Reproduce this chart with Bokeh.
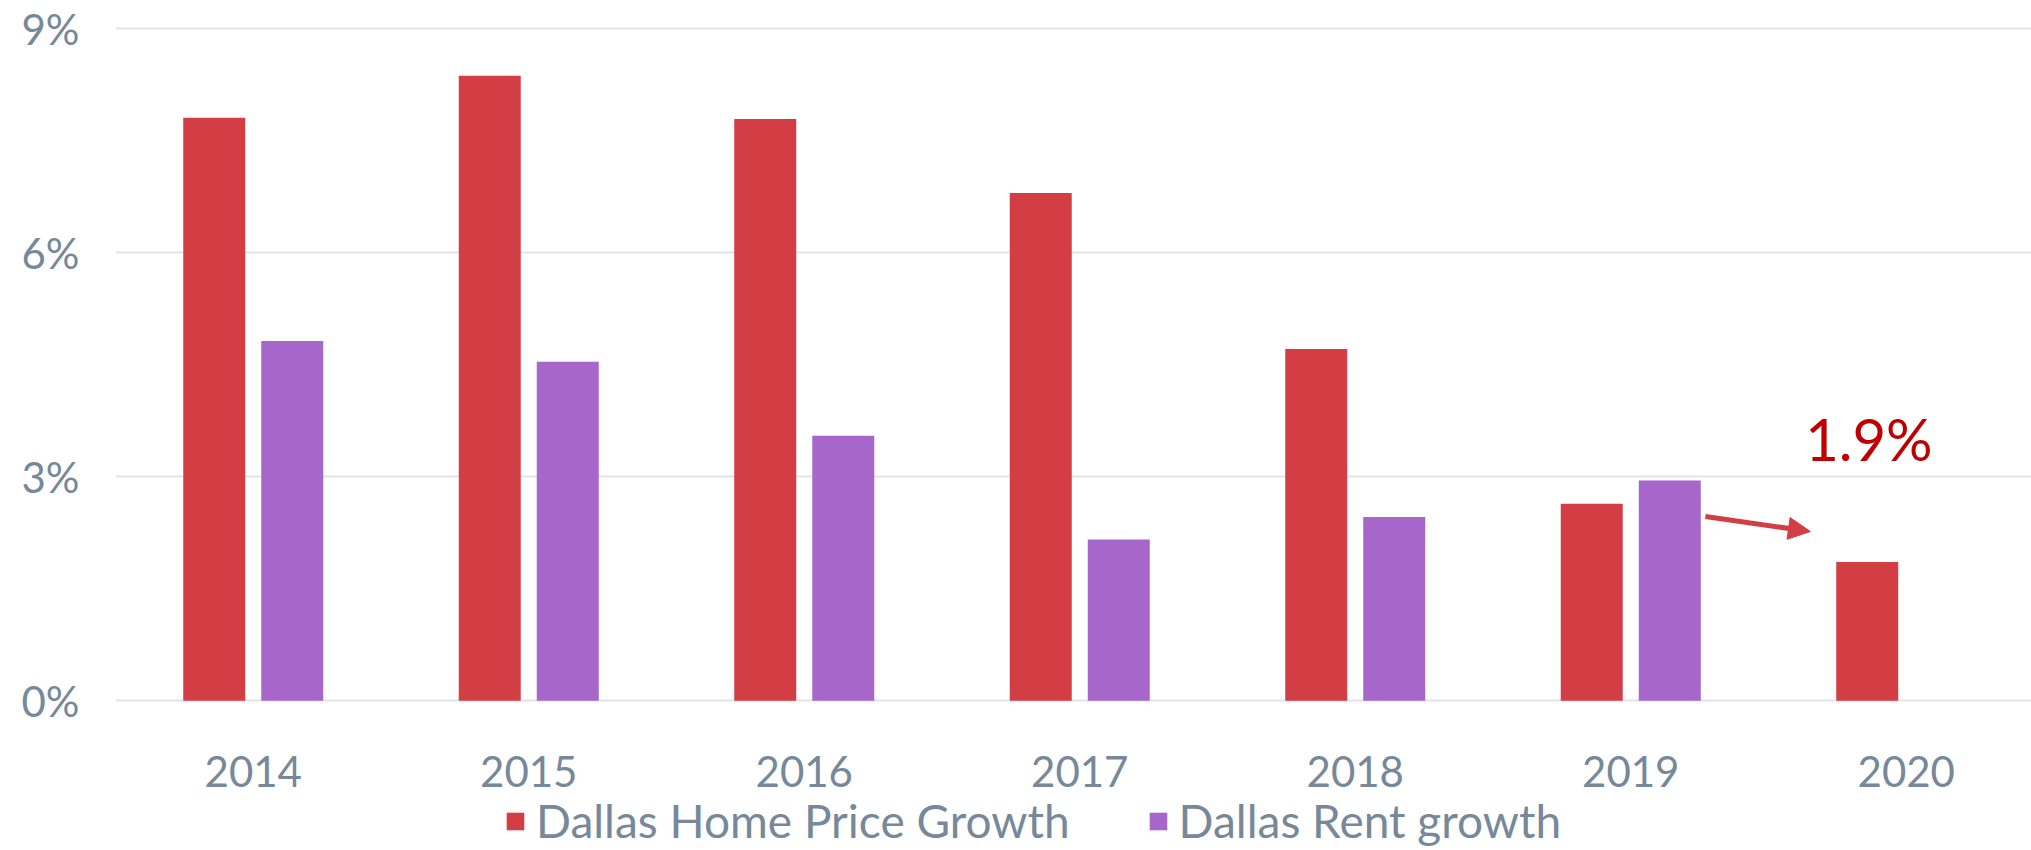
from bokeh.plotting import figure
from bokeh.models import (ColumnDataSource, Range1d, FixedTicker, Legend, LegendItem,
                          Label, Arrow, NormalHead)
from bokeh.core.properties import value
from bokeh.transform import dodge
from bokeh.embed import file_html
from bokeh.resources import INLINE

# ---- data ----
years = ["2014", "2015", "2016", "2017", "2018", "2019", "2020"]
home_price_growth = [7.81, 8.37, 7.79, 6.80, 4.71, 2.64, 1.86]
rent_growth = [4.82, 4.54, 3.55, 2.16, 2.46, 2.95, None]
y_ticks = [0, 3, 6, 9]
y_tick_labels = ["0%", "3%", "6%", "9%"]
series_names = ["Dallas Home Price Growth", "Dallas Rent growth"]
annotation_text = "1.9%"

RED = "#D33E45"
PURPLE = "#A666CA"
TEXT = "#76889A"
FONT = "Lato"

idx = list(range(len(years)))
home_src = ColumnDataSource(dict(x=idx, top=home_price_growth))
rent_idx = [i for i, v in zip(idx, rent_growth) if v is not None]
rent_src = ColumnDataSource(dict(x=rent_idx, top=[v for v in rent_growth if v is not None]))

W, H = 2031, 850
LEFT, TOP = 115, 24
cat_px = 275.5          # pixels per category
unit_px = 74.67         # pixels per 1 percentage point
zero_px = 700.3         # page y of the 0% line
frame_w = W - LEFT

y_end = (zero_px - TOP) / unit_px
y_start = -(H - zero_px) / unit_px

p = figure(width=W, height=H, output_backend="svg", toolbar_location=None,
           x_range=Range1d(-0.5, -0.5 + frame_w / cat_px), y_range=Range1d(y_start, y_end),
           min_border_left=LEFT, min_border_right=0, min_border_top=TOP,
           min_border_bottom=0)
p.outline_line_color = None
p.background_fill_color = "white"
p.border_fill_color = "white"

bar_w = 0.225
off = 0.1416
r_home = p.vbar(x=dodge("x", -off, range=p.x_range), top="top", width=bar_w, bottom=0,
                source=home_src, fill_color=RED, line_color=None)
r_rent = p.vbar(x=dodge("x", off, range=p.x_range), top="top", width=bar_w, bottom=0,
                source=rent_src, fill_color=PURPLE, line_color=None)

# category labels (x axis) drawn below the 0% line
lab_src = ColumnDataSource(dict(x=idx, text=years))
p.text(x="x", y=-(771 - zero_px) / unit_px, text="text", source=lab_src,
       text_font=value(FONT), text_font_size="42px", text_color=TEXT,
       text_align="center", text_baseline="alphabetic")
p.xaxis.visible = False

# y axis
p.yaxis.ticker = FixedTicker(ticks=y_ticks)
p.yaxis.major_label_overrides = {t: l for t, l in zip(y_ticks, y_tick_labels)}
p.yaxis.axis_line_color = None
p.yaxis.major_tick_line_color = None
p.yaxis.minor_tick_line_color = None
p.yaxis.major_tick_in = 0
p.yaxis.major_tick_out = 0
p.yaxis.major_label_text_font = FONT
p.yaxis.major_label_text_font_size = "42px"
p.yaxis.major_label_text_color = TEXT
p.yaxis.major_label_standoff = 36

p.xgrid.grid_line_color = None
p.ygrid.ticker = FixedTicker(ticks=y_ticks)
p.ygrid.grid_line_color = "#E1E4E9"
p.ygrid.grid_line_width = 2

# annotation
p.add_layout(Label(x=5.633, y=3.51, text=annotation_text, text_font=FONT,
                   text_font_size="58px", text_color="#C00000",
                   text_baseline="alphabetic", text_align="left"))
p.add_layout(Arrow(end=NormalHead(size=22, fill_color=RED, line_color=RED),
                   x_start=5.271, y_start=2.468, x_end=5.652, y_end=2.267,
                   line_width=5, line_color=RED))

legend = Legend(items=[LegendItem(label=series_names[0], renderers=[r_home]),
                       LegendItem(label=series_names[1], renderers=[r_rent])],
                location=(389, 2), orientation="horizontal",
                glyph_width=22, glyph_height=22, label_standoff=10, spacing=77,
                padding=0, margin=0, border_line_color=None, background_fill_alpha=0,
                label_text_font=FONT, label_text_font_size="46px",
                label_text_color=TEXT)
p.add_layout(legend, "center")

open("out.html", "w").write(file_html(p, INLINE))
